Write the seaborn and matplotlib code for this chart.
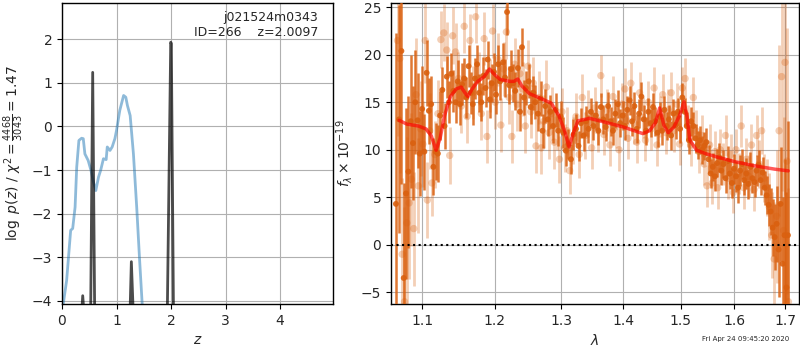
import numpy as np
import pandas as pd
import matplotlib
matplotlib.use("Agg")
import matplotlib.pyplot as plt
import seaborn as sns
from matplotlib.ticker import FixedLocator, FixedFormatter, NullLocator

# ---------------- data ----------------
chi_z = [0.024, 0.085, 0.159, 0.196, 0.24, 0.27, 0.31, 0.36, 0.39, 0.42, 0.48, 0.53,
         0.57, 0.62, 0.67, 0.71, 0.76, 0.81, 0.83, 0.88, 0.92, 0.97, 1.0, 1.06, 1.13,
         1.17, 1.20, 1.25, 1.31, 1.37, 1.42, 1.47, 1.52]
chi_logp = [-4.06, -3.53, -2.38, -2.34, -1.85, -0.93, -0.32, -0.27, -0.28, -0.63, -0.78, -1.0,
            -1.24, -1.47, -1.16, -1.0, -0.74, -0.76, -0.47, -0.55, -0.47, -0.28, -0.09, 0.37, 0.71,
            0.67, 0.48, 0.25, -0.63, -1.85, -2.99, -4.06, -5.2]

pz_z = [0.0, 0.355, 0.38, 0.41, 0.525, 0.563, 0.60, 1.245, 1.272, 1.31, 1.93, 1.994, 2.005, 2.045, 4.97]
pz_logp = [-10, -4.4, -3.88, -4.4, -4.4, 1.24, -4.4, -4.4, -3.1, -4.4, -4.4, 1.93, 1.9, -4.4, -10]

pa1_lam = [1.066, 1.070, 1.073, 1.076, 1.079, 1.082, 1.085, 1.088, 1.091, 1.094, 1.097, 1.100,
           1.103, 1.106, 1.109, 1.112, 1.115, 1.118, 1.121, 1.124, 1.127, 1.130, 1.133, 1.136,
           1.139, 1.142, 1.145, 1.148, 1.151, 1.154, 1.157, 1.160, 1.163, 1.166, 1.169, 1.172,
           1.175, 1.178, 1.181, 1.184, 1.187, 1.190, 1.193, 1.196, 1.199, 1.202, 1.205, 1.208,
           1.212, 1.215, 1.218, 1.221, 1.224, 1.227, 1.230, 1.234, 1.237, 1.240, 1.243, 1.246,
           1.250, 1.253, 1.257, 1.260, 1.264, 1.268, 1.271, 1.275, 1.279, 1.283, 1.287, 1.291,
           1.295, 1.299, 1.303, 1.307, 1.311, 1.315, 1.319, 1.323, 1.327, 1.331, 1.335, 1.339,
           1.343, 1.347, 1.351, 1.355, 1.359, 1.363, 1.367, 1.371, 1.375, 1.379, 1.383, 1.387,
           1.391, 1.395, 1.399, 1.403, 1.407, 1.411, 1.415, 1.419, 1.423, 1.427, 1.431, 1.435,
           1.439, 1.443, 1.447, 1.451, 1.455, 1.459, 1.463, 1.467, 1.471, 1.475, 1.479, 1.483,
           1.487, 1.491, 1.495, 1.499, 1.503, 1.507, 1.511, 1.515, 1.519, 1.523, 1.527, 1.531,
           1.535, 1.539, 1.543, 1.547, 1.551, 1.555, 1.559, 1.563, 1.567, 1.571, 1.575, 1.579,
           1.583, 1.587, 1.591, 1.595, 1.599, 1.603, 1.607, 1.611, 1.615, 1.619, 1.623, 1.627,
           1.631, 1.635, 1.639, 1.643, 1.647, 1.651, 1.655, 1.659, 1.663, 1.667, 1.671, 1.675,
           1.679, 1.683, 1.687, 1.691, 1.695, 1.699, 1.703, 1.706]
pa1_flux = [4.3, 13.2, 20.4, -3.5, 5.4, 7.7, 13.0, 10.7, 15.0, 13.1, 9.6, 14.3,
            9.8, 18.1, 14.1, 14.8, 8.2, 9.8, 9.6, 13.6, 16.3, 12.5, 17.7, 15.0,
            18.0, 16.2, 15.0, 17.2, 14.8, 16.9, 17.5, 15.5, 18.8, 16.0, 14.8, 17.5,
            19.0, 16.0, 15.0, 17.8, 16.5, 19.5, 15.3, 17.0, 18.2, 15.8, 19.0, 17.2,
            19.2, 17.6, 24.5, 16.8, 18.5, 17.0, 16.2, 18.6, 14.0, 20.8, 15.5, 16.5,
            17.2, 14.5, 16.0, 15.0, 13.8, 15.4, 12.0, 14.6, 13.2, 14.0, 12.5, 14.2,
            12.0, 13.5, 11.8, 9.9, 10.6, 9.0, 11.6, 12.2, 10.4, 12.8, 11.5, 13.0,
            12.2, 14.0, 12.5, 13.6, 12.0, 14.5, 13.2, 12.4, 14.6, 13.0, 12.0, 13.8,
            14.8, 12.8, 13.6, 12.5, 14.2, 15.2, 13.0, 14.6, 12.2, 13.8, 15.6, 13.2,
            12.0, 14.0, 12.8, 14.5, 13.0, 11.8, 13.5, 12.0, 14.2, 12.5, 13.2, 11.5,
            13.8, 12.6, 14.0, 12.2, 15.5, 14.0, 12.5, 11.0, 13.0, 12.5, 11.2, 10.5,
            11.0, 10.0, 10.4, 10.8, 9.0, 7.5, 8.2, 7.2, 8.6, 9.2, 7.8, 8.5,
            7.0, 8.8, 7.5, 6.5, 8.0, 7.2, 6.0, 7.8, 8.5, 6.8, 7.5, 6.4,
            8.2, 7.0, 6.6, 7.8, 8.4, 6.8, 7.6, 6.0, 5.2, 4.2, 3.5, 1.8,
            0.8, 2.2, -0.5, 4.3, -2.0, 1.0, -4.5, 1.0]
pa1_err = [18, 12, 14, 10, 9, 8, 7, 6, 5.5, 5, 4.5, 4.5,
           4, 3.5, 3.5, 3, 3, 3, 3, 2.6, 2.4, 2.4, 2.2, 2.2,
           2.2, 2.2, 2.2, 2.2, 2.2, 2.2, 2.2, 2.2, 2.2, 2.2, 2.2, 2.2,
           2.0, 2.0, 2.0, 2.0, 2.0, 2.0, 2.0, 2.0, 2.0, 2.0, 2.0, 2.0,
           2.0, 2.0, 2.4, 2.0, 2.0, 2.0, 2.0, 2.0, 2.0, 2.0, 1.8, 1.8,
           1.8, 1.8, 1.8, 1.8, 1.8, 1.8, 1.8, 1.8, 1.8, 1.8, 1.8, 1.8,
           1.6, 1.6, 1.6, 1.6, 1.6, 1.6, 1.6, 1.6, 1.6, 1.6, 1.6, 1.6,
           1.5, 1.5, 1.5, 1.5, 1.5, 1.5, 1.5, 1.5, 1.5, 1.5, 1.5, 1.5,
           1.5, 1.5, 1.5, 1.5, 1.5, 1.5, 1.5, 1.5, 1.5, 1.5, 1.5, 1.5,
           1.5, 1.5, 1.5, 1.5, 1.5, 1.5, 1.5, 1.5, 1.5, 1.5, 1.5, 1.5,
           1.5, 1.5, 1.5, 1.5, 1.5, 1.5, 1.5, 1.5, 1.5, 1.5, 1.5, 1.5,
           1.5, 1.5, 1.5, 1.5, 1.5, 1.5, 1.5, 1.5, 1.5, 1.5, 1.5, 1.5,
           1.6, 1.6, 1.6, 1.6, 1.6, 1.6, 1.6, 1.6, 1.6, 1.6, 1.6, 1.6,
           1.6, 1.6, 1.6, 1.6, 1.6, 1.6, 1.6, 1.8, 2.0, 2.2, 2.5, 3.0,
           3.5, 4, 5, 6, 7, 8, 10, 12]

pa2_lam = [1.068, 1.071, 1.074, 1.077, 1.080, 1.083, 1.086, 1.089, 1.092, 1.095, 1.098, 1.101,
           1.104, 1.107, 1.110, 1.113, 1.117, 1.121, 1.125, 1.129, 1.133, 1.137, 1.141, 1.145,
           1.149, 1.153, 1.157, 1.161, 1.165, 1.169, 1.173, 1.177, 1.181, 1.185, 1.189, 1.193,
           1.197, 1.201, 1.205, 1.209, 1.213, 1.217, 1.221, 1.225, 1.229, 1.233, 1.237, 1.241,
           1.245, 1.249, 1.253, 1.257, 1.261, 1.265, 1.269, 1.273, 1.277, 1.281, 1.285, 1.289,
           1.293, 1.297, 1.301, 1.305, 1.309, 1.313, 1.318, 1.323, 1.328, 1.333, 1.338, 1.343,
           1.348, 1.353, 1.358, 1.363, 1.368, 1.373, 1.378, 1.383, 1.388, 1.393, 1.398, 1.403,
           1.408, 1.413, 1.418, 1.423, 1.428, 1.433, 1.438, 1.443, 1.448, 1.453, 1.458, 1.463,
           1.468, 1.473, 1.478, 1.483, 1.488, 1.493, 1.498, 1.503, 1.508, 1.513, 1.518, 1.523,
           1.528, 1.533, 1.538, 1.543, 1.548, 1.553, 1.558, 1.563, 1.568, 1.573, 1.578, 1.583,
           1.588, 1.593, 1.598, 1.603, 1.608, 1.613, 1.618, 1.623, 1.628, 1.633, 1.638, 1.643,
           1.648, 1.653, 1.658, 1.663, 1.668, 1.673, 1.678, 1.683, 1.688, 1.693, 1.697, 1.700,
           1.704, 1.707]
pa2_flux = [21.5, 19.6, -1.0, -6.0, 2.3, 4.4, 6.9, 1.7, 15.8, 6.2, 12.2, 10.6,
            21.5, 4.7, 12.0, 6.5, 9.5, 13.8, 21.6, 22.3, 20.5, 9.4, 22.0, 20.3,
            17.5, 14.6, 23.0, 13.5, 21.5, 16.0, 24.0, 17.5, 13.8, 21.7, 11.4, 16.8,
            22.5, 15.0, 19.5, 12.6, 18.5, 22.4, 15.5, 11.4, 19.0, 14.8, 18.0, 16.4,
            12.5, 18.8, 14.0, 17.0, 10.4, 15.5, 10.2, 13.0, 16.6, 11.8, 13.8, 10.8,
            12.5, 9.0, 14.0, 10.2, 12.0, 7.8, 11.0, 13.5, 9.5, 15.5, 11.5, 13.8,
            10.2, 14.4, 12.0, 17.8, 11.6, 14.2, 10.5, 15.6, 12.4, 10.0, 14.8, 16.4,
            11.2, 17.0, 12.8, 10.8, 16.0, 13.4, 11.0, 15.0, 12.2, 16.5, 10.5, 13.5,
            15.8, 11.8, 14.2, 16.0, 12.0, 14.8, 10.6, 16.5, 17.5, 12.5, 10.5, 15.5,
            12.0, 9.8, 11.5, 8.5, 6.2, 10.5, 6.5, 9.8, 6.0, 10.0, 8.5, 11.5,
            7.0, 9.5, 5.5, 10.0, 7.5, 12.5, 6.0, 9.0, 7.2, 10.5, 5.8, 11.5,
            8.5, 12.0, 7.0, 6.0, 4.0, 1.0, -1.5, 3.0, 12.0, 17.7, 1.5, 19.2,
            8.8, -6.0]
pa2_err = [10, 12, 8, 10, 9, 8, 7, 6, 6, 5, 5, 4.5,
           4.5, 4, 4, 3.5, 3.5, 3.5, 3, 3, 3, 3, 3, 3,
           2.8, 2.8, 2.8, 2.8, 2.8, 2.8, 2.8, 2.8, 2.8, 2.8, 2.8, 2.8,
           2.8, 2.8, 2.8, 2.8, 2.8, 2.8, 2.8, 2.8, 2.8, 2.8, 2.8, 2.8,
           2.8, 2.8, 2.8, 2.8, 2.8, 2.8, 2.8, 2.8, 2.8, 2.8, 2.8, 2.8,
           2.5, 2.5, 2.5, 2.5, 2.5, 2.5, 2.5, 2.5, 2.5, 2.5, 2.5, 2.5,
           2.2, 2.2, 2.2, 2.2, 2.2, 2.2, 2.2, 2.2, 2.2, 2.2, 2.2, 2.2,
           2.2, 2.2, 2.2, 2.2, 2.2, 2.2, 2.2, 2.2, 2.2, 2.2, 2.2, 2.2,
           2.2, 2.2, 2.2, 2.2, 2.2, 2.2, 2.2, 2.2, 2.2, 2.2, 2.2, 2.2,
           2.2, 2.2, 2.2, 2.2, 2.2, 2.2, 2.2, 2.2, 2.2, 2.2, 2.2, 2.2,
           2.2, 2.2, 2.2, 2.2, 2.2, 2.2, 2.2, 2.2, 2.2, 2.2, 2.2, 2.2,
           2.5, 2.5, 2.5, 3, 3.5, 4.5, 6, 7, 9, 12, 12, 14,
           14, 12]

model_lam = [1.070, 1.080, 1.095, 1.105, 1.112, 1.1186, 1.124, 1.130, 1.138, 1.146, 1.1528,
             1.158, 1.162, 1.168, 1.176, 1.185, 1.1927, 1.200, 1.208, 1.2216, 1.228, 1.2338,
             1.240, 1.2513, 1.265, 1.2844, 1.296, 1.305, 1.312, 1.318, 1.326, 1.345, 1.370,
             1.400, 1.4335, 1.445, 1.455, 1.4627, 1.470, 1.4777, 1.488, 1.498, 1.506, 1.5115,
             1.5167, 1.529, 1.545, 1.566, 1.600, 1.640, 1.680, 1.7066]
model_flux = [13.1, 12.7, 12.5, 12.2, 11.5, 9.95, 11.2, 13.6, 15.6, 16.4, 16.6,
              16.0, 15.6, 16.4, 17.2, 17.7, 18.5, 17.9, 17.4, 17.2, 17.2, 17.45,
              16.7, 15.9, 15.5, 14.9, 13.6, 12.0, 10.3, 11.6, 13.05, 13.3, 12.9,
              12.4, 11.7, 12.0, 12.8, 14.4, 12.6, 11.8, 12.4, 13.6, 15.06, 13.5,
              11.0, 9.95, 9.6, 9.25, 8.75, 8.3, 7.95, 7.78]

timestamp = "Fri Apr 24 09:45:20 2020"
obj_name = "j021524m0343"
obj_info = "ID=266    z=2.0097"

# ---------------- plot ----------------
sns.set_style("white")
plt.rcParams["font.family"] = ["DejaVu Sans"]
fig = plt.figure(figsize=(8, 3.5), dpi=100)
ax1 = fig.add_axes([62/800, 46/350, 271/800, 301/350])
ax2 = fig.add_axes([391/800, 46/350, 408/800, 301/350])

for ax in (ax1, ax2):
    for sp in ax.spines.values():
        sp.set_visible(True)
        sp.set_color("black")
        sp.set_linewidth(1.0)
    ax.tick_params(axis="both", which="major", direction="out", length=3.5,
                   width=0.8, color="black", labelsize=10, left=True, bottom=True)
    ax.grid(True, color="#b0b0b0", linewidth=0.8)
    ax.set_axisbelow(True)

# left panel
sns.lineplot(x=chi_z, y=chi_logp, ax=ax1, sort=False, estimator=None,
             color="tab:blue", alpha=0.5, linewidth=2)
sns.lineplot(x=pz_z, y=pz_logp, ax=ax1, sort=False, estimator=None,
             color="black", alpha=0.7, linewidth=2)
ax1.set_xlim(0, 4.97)
ax1.set_ylim(-4.07, 2.83)
ax1.set_xticks([0, 1, 2, 3, 4])
ax1.set_yticks([-4, -3, -2, -1, 0, 1, 2])
ax1.set_xlabel(r"$z$", fontsize=10)
ax1.set_ylabel(r"$\log\ p(z)$ / $\chi^2=\frac{4468}{3043}=1.47$", fontsize=10)
ax1.text(0.945, 0.975, obj_name + "\n" + obj_info, transform=ax1.transAxes,
         ha="right", va="top", fontsize=9)

# right panel
ax2.set_xscale("log")
col = "#da600f"
ax2.errorbar(pa2_lam, pa2_flux, yerr=pa2_err, fmt="none", ecolor=col,
             alpha=0.3, elinewidth=2, zorder=2)
sns.scatterplot(x=pa2_lam, y=pa2_flux, ax=ax2, color=col, alpha=0.3,
                s=28, edgecolor="none", zorder=2)
ax2.errorbar(pa1_lam, pa1_flux, yerr=pa1_err, fmt="none", ecolor=col,
             alpha=0.85, elinewidth=1.8, zorder=3)
sns.scatterplot(x=pa1_lam, y=pa1_flux, ax=ax2, color=col, alpha=0.9,
                s=18, edgecolor="none", zorder=3)
sns.lineplot(x=model_lam, y=model_flux, ax=ax2, sort=False, estimator=None,
             color="red", alpha=0.65, linewidth=2.5, zorder=4)
ax2.axhline(0, color="black", linestyle=":", linewidth=1.5, zorder=5)

ax2.set_xlim(1.0597, 1.7288)
ax2.set_ylim(-6.24, 25.45)
xt = [1.1, 1.2, 1.3, 1.4, 1.5, 1.6, 1.7]
ax2.xaxis.set_major_locator(FixedLocator(xt))
ax2.xaxis.set_major_formatter(FixedFormatter([f"{v:.1f}" for v in xt]))
ax2.xaxis.set_minor_locator(NullLocator())
ax2.set_yticks([-5, 0, 5, 10, 15, 20, 25])
ax2.set_xlabel(r"$\lambda$", fontsize=10)
ax2.set_ylabel(r"$f_\lambda\times10^{-19}$", fontsize=10)

fig.text(0.986, 0.03, timestamp, ha="right", va="center", fontsize=5)

fig.savefig("out.png", dpi=100)
